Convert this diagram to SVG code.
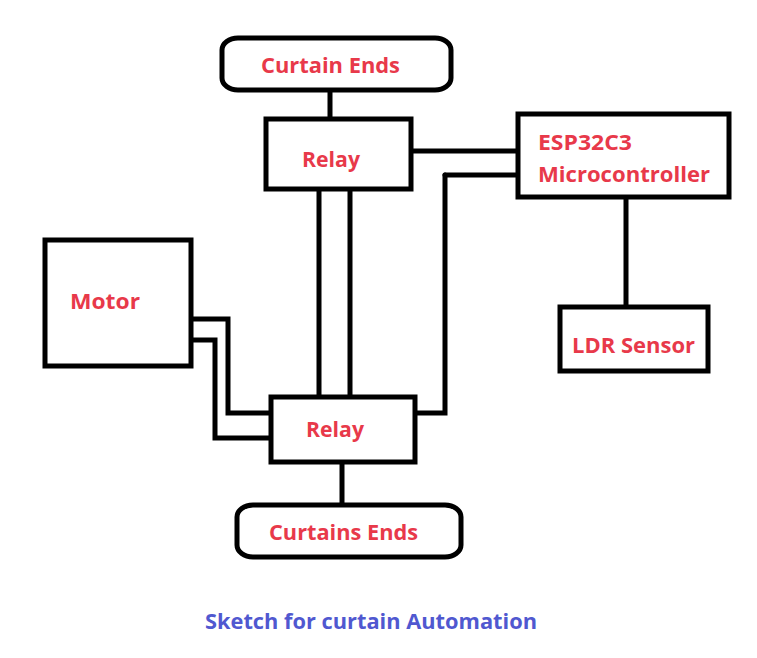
<svg xmlns="http://www.w3.org/2000/svg" width="757" height="658" viewBox="0 0 757 658">
<style>
.box{fill:#fff;stroke:#000;stroke-width:5}
.ln{fill:none;stroke:#000;stroke-width:5;stroke-linejoin:miter;stroke-linecap:round}
.t{font-family:"Open Sans","Noto Sans",sans-serif;font-weight:bold;fill:#e8394a;font-size:22px}
.cap{font-family:"Open Sans","Noto Sans",sans-serif;font-weight:bold;fill:#5058d0;font-size:21px}
</style>
<rect width="757" height="658" fill="#fff"/>
<g id="connectors">
<path class="ln" d="M330 90 V118"/>
<path class="ln" d="M412 151 H520"/>
<path class="ln" d="M445 175 H520"/>
<path class="ln" d="M445 175 V413 H416"/>
<path class="ln" d="M626 198 V307"/>
<path class="ln" d="M319 190 V397"/>
<path class="ln" d="M350 190 V397"/>
<path class="ln" d="M192 319 H228 V413 H272"/>
<path class="ln" d="M192 340 H215 V438 H272"/>
<path class="ln" d="M342 463 V505"/>
</g>
<g id="curtain-ends-top">
<rect class="box" x="222" y="38" width="229" height="52" rx="16" ry="12"/>
<text class="t" x="261" y="73" textLength="139" lengthAdjust="spacingAndGlyphs">Curtain Ends</text>
</g>
<g id="relay-top">
<rect class="box" x="266" y="119" width="145" height="70"/>
<text class="t" x="302" y="167" textLength="58" lengthAdjust="spacingAndGlyphs">Relay</text>
</g>
<g id="esp32">
<rect class="box" x="518" y="114" width="211" height="83"/>
<text class="t" x="538" y="150" textLength="94" lengthAdjust="spacingAndGlyphs">ESP32C3</text>
<text class="t" x="538" y="182" textLength="172" lengthAdjust="spacingAndGlyphs">Microcontroller</text>
</g>
<g id="ldr">
<rect class="box" x="560" y="307" width="148" height="64"/>
<text class="t" x="572" y="353" textLength="123" lengthAdjust="spacingAndGlyphs">LDR Sensor</text>
</g>
<g id="motor">
<rect class="box" x="45" y="240" width="146" height="126"/>
<text class="t" x="70" y="309" textLength="70" lengthAdjust="spacingAndGlyphs">Motor</text>
</g>
<g id="relay-bottom">
<rect class="box" x="271" y="397" width="144" height="65"/>
<text class="t" x="306" y="437" textLength="58" lengthAdjust="spacingAndGlyphs">Relay</text>
</g>
<g id="curtain-ends-bottom">
<rect class="box" x="237" y="505" width="224" height="52" rx="16" ry="12"/>
<text class="t" x="269" y="540" textLength="149" lengthAdjust="spacingAndGlyphs">Curtains Ends</text>
</g>
<text class="cap" x="205" y="629" textLength="332" lengthAdjust="spacingAndGlyphs">Sketch for curtain Automation</text>
</svg>
